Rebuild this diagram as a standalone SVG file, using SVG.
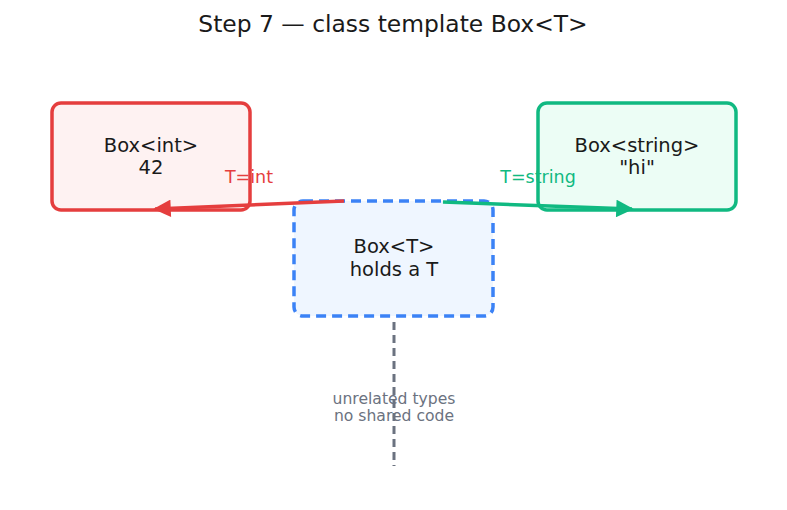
<svg xmlns="http://www.w3.org/2000/svg" width="787" height="510" viewBox="0 0 787 510">
<style>
text{font-family:"DejaVu Sans","Liberation Sans",sans-serif;text-anchor:middle}
.n{font-size:19.5px;fill:#1a1a1a}
.lbl{font-size:17.5px}
</style>
<defs>
<marker id="ar" viewBox="0 0 10 10" refX="9" refY="5" markerWidth="6" markerHeight="5" orient="auto" markerUnits="strokeWidth"><path d="M0,0L10,5L0,10z" fill="#e53e3e"/></marker>
<marker id="ag" viewBox="0 0 10 10" refX="9" refY="5" markerWidth="6" markerHeight="5" orient="auto" markerUnits="strokeWidth"><path d="M0,0L10,5L0,10z" fill="#10b981"/></marker>
</defs>
<rect width="787" height="510" fill="#fff"/>
<text x="393" y="32" font-size="23.4" fill="#1a1a1a">Step 7 — class template Box&lt;T&gt;</text>
<g id="box-int">
<rect x="52" y="103" width="198" height="107" rx="9" fill="#fef2f2" stroke="#e53e3e" stroke-width="3.5"/>
<text class="n" x="151" y="152">Box&lt;int&gt;</text>
<text class="n" x="151" y="174">42</text>
</g>
<g id="box-string">
<rect x="538" y="103" width="198" height="107" rx="9" fill="#ecfdf5" stroke="#10b981" stroke-width="3.5"/>
<text class="n" x="637" y="152">Box&lt;string&gt;</text>
<text class="n" x="637" y="174">"hi"</text>
</g>
<g id="box-t">
<rect x="294" y="201" width="199" height="115" rx="9" fill="#eff6ff" stroke="#3b82f6" stroke-width="3.5" stroke-dasharray="10,6"/>
<text class="n" x="394" y="253">Box&lt;T&gt;</text>
<text class="n" x="394" y="276">holds a T</text>
</g>
<g id="note">
<text x="394" y="404" font-size="15.6" fill="#6b7280">unrelated types</text>
<text x="394" y="421" font-size="15.6" fill="#6b7280">no shared code</text>
</g>
<g id="connectors">
<line x1="344" y1="201" x2="155" y2="209" stroke="#e53e3e" stroke-width="3.5" marker-end="url(#ar)"/>
<line x1="443" y1="202" x2="632" y2="209" stroke="#10b981" stroke-width="3.5" marker-end="url(#ag)"/>
<line x1="394" y1="322" x2="394" y2="466" stroke="#6b7280" stroke-width="3" stroke-dasharray="8,5"/>
<text class="lbl" x="249" y="183" fill="#e53e3e">T=int</text>
<text class="lbl" x="538" y="183" fill="#10b981">T=string</text>
</g>
</svg>
